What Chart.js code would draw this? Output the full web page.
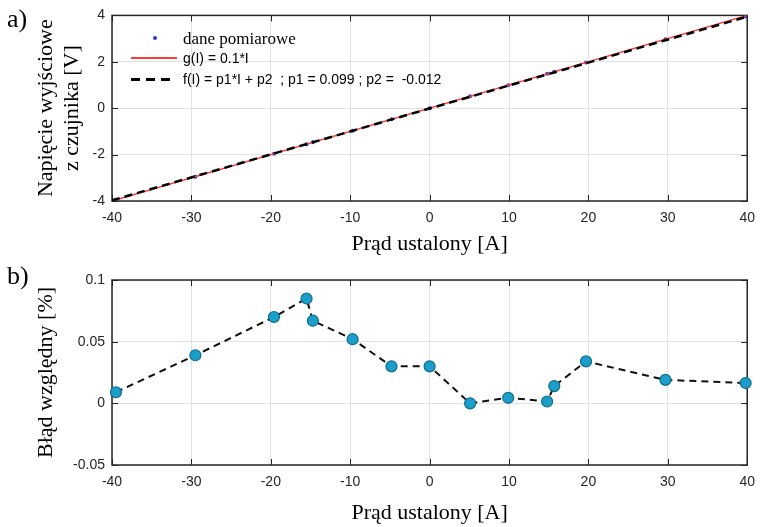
<!DOCTYPE html>
<html>
<head>
<meta charset="utf-8">
<script src="https://cdn.jsdelivr.net/npm/chart.js@4"></script>
<style>
  body { margin: 0; background: #fff; }
  #wrap { position: relative; width: 764px; height: 527px; overflow: hidden; }
  canvas { position: absolute; left: 0; }
  .tag { position: absolute; font-family: "Liberation Serif", serif; font-size: 26px; line-height: 1; color: #000; }
  .leg { position: absolute; white-space: pre; color: #000; }
</style>
</head>
<body>
<div id="wrap">
  <canvas id="top" width="764" height="260" style="top:0"></canvas>
  <canvas id="bottom" width="764" height="267" style="top:260px"></canvas>
  <div class="tag" style="left:7px; top:6px">a)</div>
  <div class="tag" style="left:7px; top:263px">b)</div>
  <div id="legend"></div>
</div>
<script>
// measured current [A]
var current = [-39.5, -29.5, -19.6, -15.5, -14.7, -9.7, -4.8, 0.0, 5.1, 9.9, 14.8, 15.7, 19.7, 29.7, 39.8];
// sensor output voltage [V]
var voltage = [-3.95, -2.95, -1.96, -1.55, -1.47, -0.97, -0.48, 0.00, 0.51, 0.99, 1.48, 1.57, 1.97, 2.97, 3.96];
// relative error [%]
var relError = [0.009, 0.039, 0.070, 0.085, 0.067, 0.052, 0.030, 0.030, 0.000, 0.0045, 0.0015, 0.014, 0.034, 0.019, 0.0165];

// line ends for g(I) and fitted f(I)
var lineX = [-40, 40];
var gY = [-4, 4];
var fY = [-3.972, 3.948];

var xTicks = [-40, -30, -20, -10, 0, 10, 20, 30, 40];
var topYTicks = [-4, -2, 0, 2, 4];
var botYTicks = [-0.05, 0, 0.05, 0.1];

var labels = ['dane pomiarowe', 'g(I) = 0.1*I', 'f(I) = p1*I + p2  ; p1 = 0.099 ; p2 =  -0.012'];

function pts(xs, ys) {
    return xs.map((x, i) => ({x: x, y: ys[i]}));
}

// box around plot area with small inward ticks, like matlab
const boxPlugin = {
    id: 'box',
    beforeDatasetsDraw(chart) {
        const ctx = chart.ctx;
        const a = chart.chartArea;
        const xs = chart.scales.x, ys = chart.scales.y;
        ctx.save();
        ctx.strokeStyle = '#262626';
        ctx.lineWidth = 1;
        ctx.beginPath();
        xs.ticks.forEach(t => {
            const p = Math.round(xs.getPixelForValue(t.value)) + 0.5;
            ctx.moveTo(p, a.bottom); ctx.lineTo(p, a.bottom - 6);
            ctx.moveTo(p, a.top); ctx.lineTo(p, a.top + 6);
        });
        ys.ticks.forEach(t => {
            const p = Math.round(ys.getPixelForValue(t.value)) + 0.5;
            ctx.moveTo(a.left, p); ctx.lineTo(a.left + 6, p);
            ctx.moveTo(a.right, p); ctx.lineTo(a.right - 6, p);
        });
        ctx.stroke();
        ctx.lineWidth = 1.5;
        ctx.strokeRect(a.left, a.top, a.right - a.left, a.bottom - a.top);
        ctx.restore();
    }
};

const tickFont = {family: 'Liberation Sans', size: 14};
const titleFont = {family: 'Liberation Serif', size: 22, lineHeight: 1.15};

function scales(yMin, yMax, yTickVals, yTitle, xHeight, xTitlePad) {
    return {
        x: {
            type: 'linear', min: -40, max: 40,
            afterBuildTicks: s => { s.ticks = xTicks.map(v => ({value: v})); },
            afterFit: s => { s.height = xHeight; },
            grid: {color: '#e2e2e2', drawTicks: false},
            border: {display: false},
            ticks: {font: tickFont, color: '#262626', padding: 9, callback: v => String(v)},
            title: {display: true, text: 'Prąd ustalony [A]', font: titleFont, color: '#000',
                    padding: {top: 0, bottom: xTitlePad}}
        },
        y: {
            type: 'linear', min: yMin, max: yMax,
            afterBuildTicks: s => { s.ticks = yTickVals.map(v => ({value: v})); },
            afterFit: s => { s.width = 112; },
            grid: {color: '#e2e2e2', drawTicks: false},
            border: {display: false},
            ticks: {font: tickFont, color: '#262626', padding: 7, callback: v => String(+v.toFixed(2))},
            title: {display: true, text: yTitle, font: titleFont, color: '#000',
                    padding: {top: 34, bottom: 0}}
        }
    };
}

const topDatasets = [
    {label: labels[0], data: pts(current, voltage), showLine: false,
     pointRadius: 2, pointBackgroundColor: '#2b3bd0', pointBorderWidth: 0, order: 3},
    {label: labels[1], data: pts(lineX, gY), showLine: true, borderColor: '#ff3a3a',
     borderWidth: 1.5, pointRadius: 0, order: 2},
    {label: labels[2], data: pts(lineX, fY), showLine: true, borderColor: '#000',
     borderWidth: 2.5, borderDash: [8, 5], pointRadius: 0, order: 1}
];

new Chart(document.getElementById('top'), {
    type: 'scatter',
    data: {datasets: topDatasets},
    options: {
        responsive: false, animation: false, devicePixelRatio: 1,
        layout: {padding: {top: 15, right: 11, left: 0, bottom: 0}},
        plugins: {legend: {display: false}, tooltip: {enabled: false}},
        scales: scales(-4, 4, topYTicks, ['Napięcie wyjściowe', 'z czujnika [V]'], 59, 3)
    },
    plugins: [boxPlugin]
});

new Chart(document.getElementById('bottom'), {
    type: 'scatter',
    data: {
        datasets: [{
            label: 'Błąd względny', data: pts(current, relError), showLine: true,
            borderColor: '#111', borderWidth: 2, borderDash: [7, 5],
            pointRadius: 5.5, pointBackgroundColor: '#1b9ec9', pointBorderColor: '#0d6e8c',
            pointBorderWidth: 1.2, clip: false
        }]
    },
    options: {
        responsive: false, animation: false, devicePixelRatio: 1,
        layout: {padding: {top: 20, right: 11, left: 0, bottom: 0}},
        plugins: {legend: {display: false}, tooltip: {enabled: false}},
        scales: scales(-0.05, 0.1, botYTicks, 'Błąd względny [%]', 62, 1)
    },
    plugins: [boxPlugin]
});

// legend inside upper plot, built from the dataset styles
(function () {
    const leg = document.getElementById('legend');
    const rows = [
        {y: 39, font: '17px "Liberation Serif"', sym: 'dot'},
        {y: 58, font: '14px "Liberation Sans"', sym: 'line'},
        {y: 79, font: '14px "Liberation Sans"', sym: 'dash'}
    ];
    rows.forEach((r, i) => {
        const ds = topDatasets[i];
        const s = document.createElement('div');
        s.style.position = 'absolute';
        if (r.sym === 'dot') {
            s.style.cssText += 'left:153px;top:' + (r.y - 3) + 'px;width:4px;height:4px;border-radius:2px;background:' + ds.pointBackgroundColor;
        } else if (r.sym === 'line') {
            s.style.cssText += 'left:131px;top:' + (r.y - 1) + 'px;width:46px;height:1.5px;background:' + ds.borderColor;
        } else {
            s.style.cssText += 'left:131px;top:' + (r.y - 1) + 'px;width:42px;height:2.5px;background:repeating-linear-gradient(90deg,#000 0 9px,transparent 9px 15px)';
        }
        leg.appendChild(s);
        const t = document.createElement('div');
        t.className = 'leg';
        t.style.font = r.font;
        t.style.left = '183px';
        t.style.top = (r.y - 10) + 'px';
        t.style.lineHeight = '20px';
        t.textContent = ds.label;
        leg.appendChild(t);
    });
})();
</script>
</body>
</html>
